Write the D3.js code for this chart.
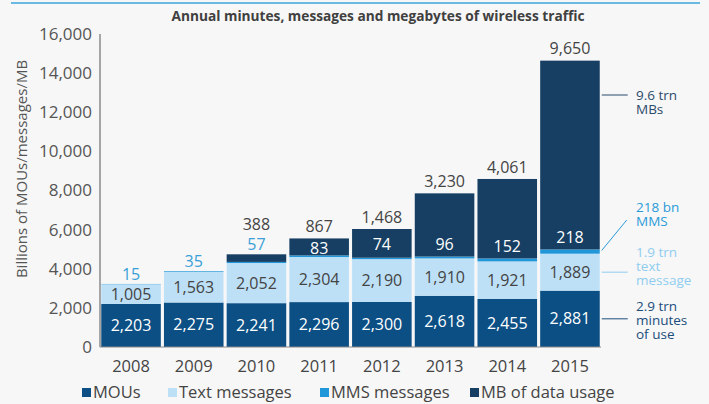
<!DOCTYPE html>
<html><head><meta charset="utf-8">
<script src="https://cdn.jsdelivr.net/npm/d3@7"></script>
<style>
body{margin:0;background:#f7f7f7;}
svg{display:block;font-family:"Open Sans",sans-serif;}
</style></head>
<body><svg id="c" width="709" height="404"></svg>
<script>
const years = ["2008","2009","2010","2011","2012","2013","2014","2015"];
const mous = [2203,2275,2241,2296,2300,2618,2455,2881];
const texts = [1005,1563,2052,2304,2190,1910,1921,1889];
const mms = [15,35,57,83,74,96,152,218];
const data = [0,0,388,867,1468,3230,4061,9650];
const yTicks = [0,2000,4000,6000,8000,10000,12000,14000,16000];
const seriesNames = ["MOUs","Text messages","MMS messages","MB of data usage"];
const colors = ["#0b4f85","#bde0f7","#1f97d8","#173f63"];
const notes = [
  {lines:["9.6 trn","MBs"], color:"#2c4a6b", series:3},
  {lines:["218 bn","MMS"], color:"#2a9bd8", series:2},
  {lines:["1.9 trn","text","message"], color:"#8fcdf0", series:1},
  {lines:["2.9 trn","minutes","of use"], color:"#1b4d7c", series:0}
];

const svg = d3.select("#c");
const fmt = d3.format(",");
const x = d3.scaleBand().domain(years).range([100,601]).paddingInner(0.05).paddingOuter(0.02);
const y = d3.scaleLinear().domain([0,16000]).range([347,34]);

svg.append("line").attr("x1",11).attr("x2",700).attr("y1",3).attr("y2",3).attr("stroke","#3aa4dc").attr("stroke-width",1.5);
svg.append("text").attr("x",378).attr("y",21).attr("text-anchor","middle")
  .attr("font-size",13.7).attr("font-weight","bold").attr("fill","#404040")
  .text("Annual minutes, messages and megabytes of wireless traffic");

const rows = years.map((yr,i)=>({year:yr, MOUs:mous[i], "Text messages":texts[i], "MMS messages":mms[i], "MB of data usage":data[i]}));
const stack = d3.stack().keys(seriesNames)(rows);

stack.forEach((s,k)=>{
  svg.append("g").selectAll("rect").data(s).join("rect")
    .attr("x",d=>x(d.data.year)).attr("width",x.bandwidth())
    .attr("y",d=>y(d[1])).attr("height",d=>Math.max(0,y(d[0])-y(d[1])))
    .attr("fill",colors[k]);
});

svg.append("line").attr("x1",100).attr("x2",100).attr("y1",34).attr("y2",347).attr("stroke","#555");
svg.append("line").attr("x1",100).attr("x2",601).attr("y1",347).attr("y2",347).attr("stroke","#888");
svg.append("g").selectAll("text").data(yTicks).join("text")
  .attr("x",92).attr("y",d=>y(d)).attr("dy","0.35em").attr("text-anchor","end")
  .attr("font-size",17).attr("fill","#555").text(d=>fmt(d));
svg.append("g").selectAll("text").data(years).join("text")
  .attr("x",d=>x(d)+x.bandwidth()/2).attr("y",366).attr("dy","0.35em").attr("text-anchor","middle")
  .attr("font-size",16.5).attr("fill","#444").text(d=>d);
svg.append("text").attr("transform","translate(22,169) rotate(-90)").attr("text-anchor","middle")
  .attr("dy","0.35em").attr("font-size",15).attr("fill","#555").text("Billions of MOUs/messages/MB");

const lab = svg.append("g").attr("font-size",16);
rows.forEach((r,i)=>{
  const cx = x(r.year)+x.bandwidth()/2;
  const s0 = stack[0][i], s1 = stack[1][i], s2 = stack[2][i], s3 = stack[3][i];
  lab.append("text").attr("x",cx).attr("y",(y(s0[0])+y(s0[1]))/2).attr("dy","0.35em")
    .attr("text-anchor","middle").attr("fill","#fff").text(fmt(r.MOUs));
  lab.append("text").attr("x",cx).attr("y",(y(s1[0])+y(s1[1]))/2).attr("dy","0.35em")
    .attr("text-anchor","middle").attr("fill","#444").text(fmt(r["Text messages"]));
  const top = y(s3[1]);
  if (r["MB of data usage"] > 500) {
    const segH = y(s3[0]) - top;
    const my = segH < 30 ? (y(s3[0]) + top)/2 + 1 : y(s2[1]) - 12;
    lab.append("text").attr("x",cx).attr("y",my).attr("dy","0.35em")
      .attr("text-anchor","middle").attr("fill","#fff").text(fmt(r["MMS messages"]));
    lab.append("text").attr("x",cx).attr("y",top-12).attr("dy","0.35em")
      .attr("text-anchor","middle").attr("fill","#444").text(fmt(r["MB of data usage"]));
  } else {
    lab.append("text").attr("x",cx).attr("y",top-10).attr("dy","0.35em")
      .attr("text-anchor","middle").attr("fill","#3a9fd8").text(fmt(r["MMS messages"]));
    if (r["MB of data usage"]>0)
      lab.append("text").attr("x",cx).attr("y",top-30).attr("dy","0.35em")
        .attr("text-anchor","middle").attr("fill","#444").text(fmt(r["MB of data usage"]));
  }
});

const last = years.length-1;
const xr = x(years[last])+x.bandwidth();
const noteY = [95, 207, 252, 306];
notes.forEach((n,j)=>{
  const s = stack[n.series][last];
  let ly = (y(s[0])+y(s[1]))/2;
  if (n.series===3) ly = noteY[0];
  const g = svg.append("g");
  if (n.series===2) {
    g.append("line").attr("x1",xr+2).attr("y1",y(s[1])+1).attr("x2",xr+27).attr("y2",noteY[1]+13).attr("stroke",n.color);
  } else {
    g.append("line").attr("x1",xr+2).attr("x2",xr+28).attr("y1",ly).attr("y2",ly).attr("stroke",n.color);
  }
  n.lines.forEach((t,k)=>{
    g.append("text").attr("x",636).attr("y",noteY[j]+k*14).attr("dy","0.35em")
      .attr("font-size",13.5).attr("fill",n.color).text(t);
  });
});

const legX = [82,168,320,470];
const leg = svg.append("g");
seriesNames.forEach((nm,k)=>{
  leg.append("rect").attr("x",legX[k]).attr("y",388).attr("width",9).attr("height",9).attr("fill",colors[k]);
  leg.append("text").attr("x",legX[k]+11).attr("y",392).attr("dy","0.35em").attr("font-size",16.5).attr("fill","#444").text(nm);
});
</script></body></html>
